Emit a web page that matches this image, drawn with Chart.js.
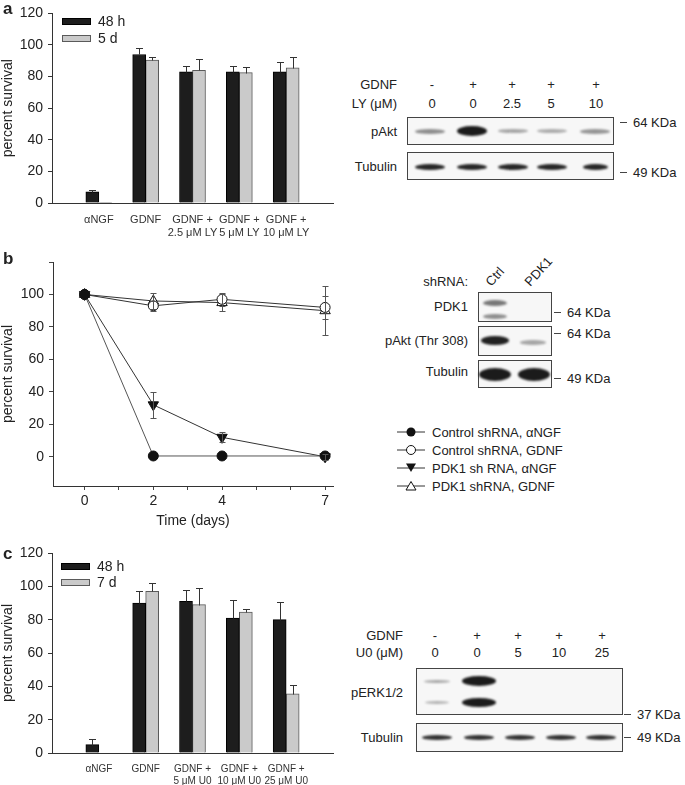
<!DOCTYPE html>
<html>
<head>
<meta charset="utf-8">
<script src="https://cdn.jsdelivr.net/npm/chart.js@4.4.0/dist/chart.umd.min.js"></script>
<style>
body { margin: 0; width: 685px; height: 785px; position: relative; background: #fff; overflow: hidden;
       font-family: "Liberation Sans", Arial, sans-serif; color: #222; }
canvas.ch { position: absolute; }
.t { position: absolute; white-space: nowrap; line-height: 1; font-size: 13px; }
.box { position: absolute; border: 1px solid #444; background: #f7f7f7; overflow: hidden; box-sizing: border-box; }
.band { position: absolute; border-radius: 50%; filter: blur(1.3px); }
.dash { position: absolute; height: 1px; width: 7px; background: #444; }
.plab { position: absolute; font-weight: bold; font-size: 17px; line-height: 1; }
</style>
</head>
<body>
<canvas id="chartA" class="ch" width="340" height="240" style="left:0px;top:0px"></canvas>
<canvas id="chartB" class="ch" width="340" height="290" style="left:0px;top:240px"></canvas>
<canvas id="chartC" class="ch" width="340" height="265" style="left:0px;top:520px"></canvas>
<div id="extras"></div>

<script>
// panel a - LY294002
const lyLabels = ['', 'αNGF', 'GDNF', ['GDNF +', '2.5 μM LY'], ['GDNF +', '5 μM LY'], ['GDNF +', '10 μM LY'], ''];
const ly48h = [null, 7, 94, 83, 83, 83, null];
const ly48hErr = [0, 1, 4, 4, 4, 6, 0];
const ly5d = [null, 0.5, 90.5, 84, 82.5, 85.5, null];
const ly5dErr = [0, 0, 2, 7, 3.5, 7, 0];

// panel b - time course
const timeDays = [0, 2, 4, 7];
const ctrlNgf = [100, 0.5, 0.5, 0.5];
const ctrlNgfErr = [0, 0, 0, 0];
const ctrlGdnf = [100, 93, 97, 92];
const ctrlGdnfErr = [0, 3, 4, 7];
const pdkNgf = [100, 32, 12, 0];
const pdkNgfErr = [0, 8, 3, 2];
const pdkGdnf = [100, 96, 95, 90];
const pdkGdnfErr = [0, 5, 5, 15];
const dayTicks = [0, 2, 4, 7];

// panel c - U0126
const u0Labels = ['', 'αNGF', 'GDNF', ['GDNF +', '5 μM U0'], ['GDNF +', '10 μM U0'], ['GDNF +', '25 μM U0'], ''];
const u048h = [null, 5, 90, 91, 81, 80, null];
const u048hErr = [0, 3.5, 7.5, 7, 11, 10.5, 0];
const u07d = [null, 0, 97, 89, 84.5, 35.5, null];
const u07dErr = [0, 0, 5, 10, 2, 5.5, 0];

Chart.defaults.font.family = '"Liberation Sans", Arial, sans-serif';
Chart.defaults.color = '#222';

// draws error bars from each dataset's "errors" array
const errorBars = {
    id: 'errorBars',
    afterDatasetsDraw(chart, args, opts) {
        var ctx = chart.ctx;
        var yScale = chart.scales.y;
        chart.data.datasets.forEach((ds, i) => {
            if (!ds.errors) return;
            var meta = chart.getDatasetMeta(i);
            ctx.save();
            ctx.strokeStyle = opts.color || '#333';
            ctx.lineWidth = 1;
            meta.data.forEach((el, j) => {
                var e = ds.errors[j];
                var raw = ds.data[j];
                var v = (raw !== null && typeof raw === 'object') ? raw.y : raw;
                if (!e || v === null) return;
                var x = Math.round(el.x) + 0.5;
                var yTop = Math.round(yScale.getPixelForValue(v + e)) + 0.5;
                var yBot = Math.round(yScale.getPixelForValue(opts.both ? v - e : v)) + 0.5;
                var c = opts.cap || 3;
                ctx.beginPath();
                ctx.moveTo(x, yBot); ctx.lineTo(x, yTop);
                ctx.moveTo(x - c, yTop); ctx.lineTo(x + c, yTop);
                if (opts.both) { ctx.moveTo(x - c, yBot); ctx.lineTo(x + c, yBot); }
                ctx.stroke();
            });
            ctx.restore();
        });
    }
};

function barChart(id, labels, d1, e1, d2, e2, name1, name2, xFont, xPad, pad, xHeight) {
    var ctx = document.getElementById(id).getContext('2d');
    return new Chart(ctx, {
        type: 'bar',
        data: {
            labels: labels,
            datasets: [{
                label: name1, data: d1, errors: e1,
                backgroundColor: '#1d1d1d', borderColor: '#000', borderWidth: 1, barThickness: 13
            }, {
                label: name2, data: d2, errors: e2,
                backgroundColor: '#cacaca', borderColor: '#5a5a5a', borderWidth: 1, barThickness: 13
            }]
        },
        options: {
            responsive: false,
            animation: false,
            layout: { padding: pad },
            plugins: { legend: { display: false }, tooltip: { enabled: false }, errorBars: { cap: 3.5, color: '#333' } },
            scales: {
                x: {
                    type: 'category', offset: false,
                    grid: { display: false },
                    border: { display: true, color: '#333' },
                    ticks: { font: { size: xFont, lineHeight: 1.12 }, padding: xPad, maxRotation: 0, autoSkip: false, color: '#333' },
                    afterFit: s => { s.height = xHeight; }
                },
                y: {
                    min: 0, max: 120,
                    grid: { drawOnChartArea: false, tickLength: 4, color: '#333' },
                    border: { display: true, color: '#333' },
                    ticks: { stepSize: 20, font: { size: 14 }, padding: 5 },
                    title: { display: true, text: 'percent survival', font: { size: 14 }, padding: 0 },
                    afterFit: s => { s.width = 52; }
                }
            }
        },
        plugins: [errorBars]
    });
}

barChart('chartA', lyLabels, ly48h, ly48hErr, ly5d, ly5dErr, '48 h', '5 d', 11, 3, { top: 7, right: 7 }, 37);
barChart('chartC', u0Labels, u048h, u048hErr, u07d, u07dErr, '48 h', '7 d', 10, 3, { top: 33, right: 7 }, 32);

function pts(ys) { return timeDays.map((d, i) => ({ x: d, y: ys[i] })); }

var lineSets = [
    { label: 'Control shRNA, αNGF', data: pts(ctrlNgf), errors: ctrlNgfErr, pointStyle: 'circle', pointRadius: 5, pointBackgroundColor: '#111', borderColor: '#555' },
    { label: 'Control shRNA, GDNF', data: pts(ctrlGdnf), errors: ctrlGdnfErr, pointStyle: 'circle', pointRadius: 5, pointBackgroundColor: '#fff', borderColor: '#333' },
    { label: 'PDK1 sh RNA, αNGF', data: pts(pdkNgf), errors: pdkNgfErr, pointStyle: 'triangle', pointRotation: 180, pointRadius: 6, pointBackgroundColor: '#111', borderColor: '#333' },
    { label: 'PDK1 shRNA, GDNF', data: pts(pdkGdnf), errors: pdkGdnfErr, pointStyle: 'triangle', pointRadius: 6, pointBackgroundColor: '#fff', borderColor: '#333' }
];
lineSets.forEach(ds => {
    ds.borderWidth = 1;
    ds.pointBorderColor = '#111';
    ds.pointBorderWidth = 1;
    ds.tension = 0;
    ds.fill = false;
});

new Chart(document.getElementById('chartB').getContext('2d'), {
    type: 'line',
    data: { datasets: lineSets },
    options: {
        responsive: false,
        animation: false,
        layout: { padding: { top: 22, right: 4 } },
        plugins: { legend: { display: false }, tooltip: { enabled: false }, errorBars: { both: true, cap: 3, color: '#555' } },
        scales: {
            x: {
                type: 'linear', min: -0.92, max: 7.23,
                grid: { drawOnChartArea: false, tickLength: 4, color: '#444' },
                border: { display: true, color: '#333' },
                afterBuildTicks: s => { s.ticks = [0, 1, 2, 3, 4, 5, 6, 7].map(v => ({ value: v })); },
                ticks: { font: { size: 14 }, padding: 3, callback: v => dayTicks.includes(v) ? v : '' },
                title: { display: true, text: 'Time (days)', font: { size: 14 }, padding: 0 },
                afterFit: s => { s.height = 44; }
            },
            y: {
                min: -18, max: 120,
                grid: { drawOnChartArea: false, tickLength: 4, color: '#444' },
                border: { display: true, color: '#333' },
                afterBuildTicks: s => { s.ticks = [0, 20, 40, 60, 80, 100, 120].map(v => ({ value: v })); },
                ticks: { font: { size: 14 }, padding: 5, callback: v => v === 120 ? '' : v },
                title: { display: true, text: 'percent survival', font: { size: 14 }, padding: 0 },
                afterFit: s => { s.width = 53; }
            }
        }
    },
    plugins: [errorBars]
});

// ---- extras: panel letters, legends and blots ----
var extras = document.getElementById('extras');

function txt(s, x, y, align, size, extraStyle) {
    var d = document.createElement('div');
    d.className = 't';
    d.textContent = s;
    d.style.left = x + 'px';
    d.style.top = y + 'px';
    if (size) d.style.fontSize = size + 'px';
    var tx = align === 'right' ? '-100%' : align === 'center' ? '-50%' : '0';
    d.style.transform = 'translate(' + tx + ',-50%)';
    if (extraStyle) Object.assign(d.style, extraStyle);
    extras.appendChild(d);
    return d;
}

function box(x, y, w, h) {
    var d = document.createElement('div');
    d.className = 'box';
    Object.assign(d.style, { left: x + 'px', top: y + 'px', width: w + 'px', height: h + 'px' });
    extras.appendChild(d);
}

function band(cx, cy, w, h, a) {
    var d = document.createElement('div');
    d.className = 'band';
    Object.assign(d.style, { left: (cx - w / 2) + 'px', top: (cy - h / 2) + 'px', width: w + 'px', height: h + 'px',
        background: 'rgba(15,15,15,' + a + ')' });
    extras.appendChild(d);
}

function marker(x, y, s) {
    var d = document.createElement('div');
    d.className = 'dash';
    d.style.left = x + 'px';
    d.style.top = y + 'px';
    extras.appendChild(d);
    txt(s, x + 13, y, 'left', 13);
}

function plab(s, x, y) {
    var d = document.createElement('div');
    d.className = 'plab';
    d.textContent = s;
    d.style.left = x + 'px';
    d.style.top = y + 'px';
    extras.appendChild(d);
}

plab('a', 3, 0);
plab('b', 3, 250);
plab('c', 3, 545);

// bar legends
function barLegend(x, y, gap, names) {
    [['#1d1d1d', '#000'], ['#cacaca', '#5a5a5a']].forEach((c, i) => {
        var d = document.createElement('div');
        Object.assign(d.style, { position: 'absolute', left: x + 'px', top: (y + i * gap - 3) + 'px', width: '27px', height: '5px',
            background: c[0], border: '1px solid ' + c[1] });
        extras.appendChild(d);
        txt(names[i], x + 36, y + i * gap, 'left', 14);
    });
}
barLegend(62, 21, 17, ['48 h', '5 d']);
barLegend(61, 566, 16, ['48 h', '7 d']);

// blot a
var lanesA = [432, 473, 512, 551, 596];
txt('GDNF', 397, 84, 'right');
txt('LY (μM)', 397, 103, 'right');
['-', '+', '+', '+', '+'].forEach((s, i) => txt(s, lanesA[i], 84, 'center'));
['0', '0', '2.5', '5', '10'].forEach((s, i) => txt(s, lanesA[i], 103, 'center'));
box(407, 117, 207, 28);
box(407, 152, 207, 28);
txt('pAkt', 397, 131, 'right');
txt('Tubulin', 397, 166, 'right');
[[430, 5, 0.45], [472, 10, 0.95], [513, 4, 0.35], [552, 4, 0.32], [595, 5, 0.42]].forEach(b => band(b[0], 131, 30, b[1], b[2]));
[[430, 30], [472, 30], [513, 30], [552, 30], [595, 25]].forEach(b => band(b[0], 167, b[1], 6, 0.9));
marker(620, 122, '64 KDa');
marker(620, 172, '49 KDa');

// blot b
txt('shRNA:', 468, 281, 'right');
txt('Ctrl', 488, 284, 'left', 13, { transformOrigin: '0 50%', transform: 'translate(0,-50%) rotate(-48deg)' });
txt('PDK1', 527, 284, 'left', 13, { transformOrigin: '0 50%', transform: 'translate(0,-50%) rotate(-48deg)' });
box(478, 292, 74, 30);
box(478, 326, 74, 30);
box(478, 360, 74, 28);
txt('PDK1', 468, 306, 'right');
txt('pAkt (Thr 308)', 468, 340, 'right');
txt('Tubulin', 468, 371, 'right');
band(495, 303, 24, 6, 0.55);
band(495, 316, 24, 5, 0.45);
band(495, 340, 28, 9, 0.92);
band(533, 342, 26, 5, 0.35);
band(495, 374, 32, 13, 0.95);
band(534, 374, 32, 13, 0.95);
marker(554, 312, '64 KDa');
marker(554, 333, '64 KDa');
marker(554, 378, '49 KDa');

// legend b
var legSvg = document.createElementNS('http://www.w3.org/2000/svg', 'svg');
legSvg.setAttribute('width', '40');
legSvg.setAttribute('height', '80');
legSvg.style.position = 'absolute';
legSvg.style.left = '390px';
legSvg.style.top = '422px';
var legRows = [
    '<circle cx="21" cy="10" r="4.5" fill="#111"/>',
    '<circle cx="21" cy="28" r="4.5" fill="#fff" stroke="#111"/>',
    '<polygon points="16,41.5 26,41.5 21,50" fill="#111"/>',
    '<polygon points="16,68 26,68 21,59.5" fill="#fff" stroke="#111"/>'
];
legSvg.innerHTML = legRows.map((m, i) => '<line x1="7" x2="35" y1="' + (10 + i * 18) + '" y2="' + (10 + i * 18) + '" stroke="#333"/>' + m).join('');
extras.appendChild(legSvg);
lineSets.forEach((ds, i) => txt(ds.label, 432, 432 + i * 18, 'left', 13));

// blot c
var lanesC = [435, 477, 518, 559, 602];
txt('GDNF', 403, 635, 'right');
txt('U0 (μM)', 403, 652, 'right');
['-', '+', '+', '+', '+'].forEach((s, i) => txt(s, lanesC[i], 635, 'center'));
['0', '0', '5', '10', '25'].forEach((s, i) => txt(s, lanesC[i], 652, 'center'));
box(416, 668, 207, 47);
box(416, 723, 207, 29);
txt('pERK1/2', 403, 692, 'right');
txt('Tubulin', 403, 737, 'right');
band(437, 681, 26, 3, 0.35);
band(437, 702, 24, 3, 0.3);
band(479, 681, 34, 10, 0.95);
band(479, 702, 34, 9, 0.95);
[437, 479, 520, 561, 601].forEach(x => band(x, 737, 30, 5, 0.85));
marker(624, 714, '37 KDa');
marker(624, 737, '49 KDa');
</script>
</body>
</html>
